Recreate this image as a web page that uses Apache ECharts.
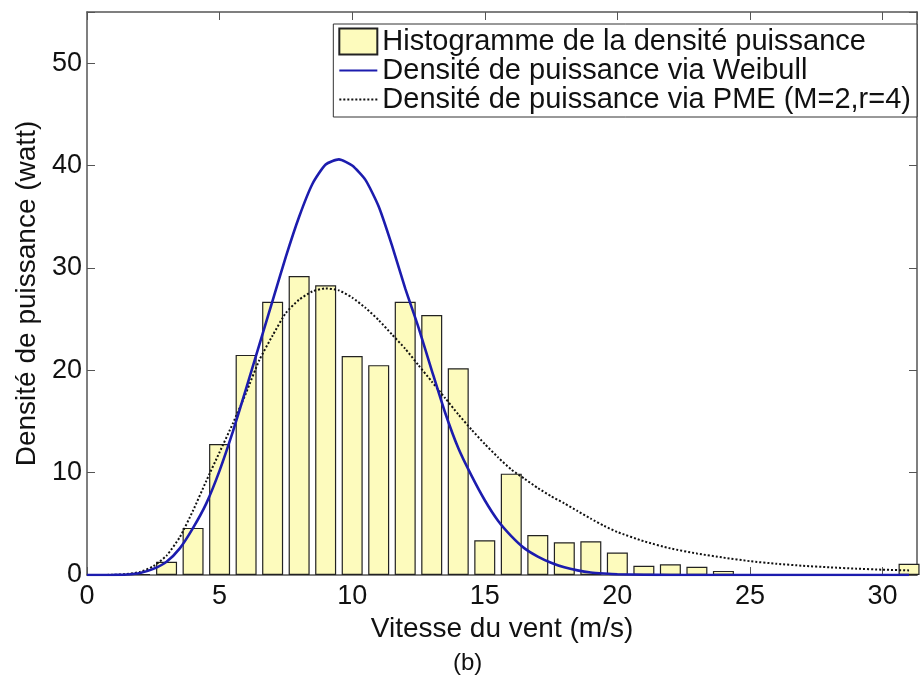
<!DOCTYPE html>
<html>
<head>
<meta charset="utf-8">
<script src="https://cdn.jsdelivr.net/npm/echarts@6.0.0/dist/echarts.min.js"></script>
<style>
    html, body { margin: 0; padding: 0; background: #fff; }
    #chart { width: 920px; height: 677px; }
</style>
</head>
<body>
<div id="chart"></div>
<script>
// histogram (bin centre in m/s, power density)
var histX = [2, 3, 4, 5, 6, 7, 8, 9, 10, 11, 12, 13, 14, 15, 16, 17, 18, 19, 20, 21, 22, 23, 24, 31];
var histY = [0.1, 1.3, 4.6, 12.8, 21.5, 26.7, 29.2, 28.3, 21.4, 20.5, 26.7, 25.4, 20.2, 3.4, 9.9, 3.9, 3.2, 3.3, 2.2, 0.9, 1.05, 0.8, 0.4, 1.1];

// Weibull curve
var weibullX = [0, 1, 1.5, 2, 2.5, 3, 3.5, 4, 4.5, 5, 5.5, 6, 6.5, 7, 7.5, 8, 8.5, 9, 9.5, 10, 10.5, 11, 11.5, 12, 12.5, 13, 13.5, 14, 14.5, 15, 15.5, 16, 16.5, 17, 17.5, 18, 18.5, 19, 19.5, 20, 21, 22, 31];
var weibullY = [0, 0.01, 0.05, 0.2, 0.6, 1.3, 2.6, 4.6, 7.0, 10.2, 14.0, 18.2, 22.5, 26.8, 31.1, 35.0, 38.2, 40.1, 40.6, 40.0, 38.6, 36.0, 32.2, 28.0, 24.2, 20.0, 15.9, 12.4, 9.7, 7.3, 5.3, 3.8, 2.6, 1.8, 1.2, 0.75, 0.45, 0.25, 0.15, 0.08, 0.03, 0, 0];

// PME (M=2, r=4) curve
var pmeX = [0, 1, 1.5, 2, 2.5, 3, 3.5, 4, 4.5, 5, 5.5, 6, 6.5, 7, 7.5, 8, 8.5, 9, 9.5, 10, 10.5, 11, 11.5, 12, 12.5, 13, 13.5, 14, 14.5, 15, 15.5, 16, 16.5, 17, 17.5, 18, 18.5, 19, 19.5, 20, 21, 22, 23, 24, 25, 26, 27, 28, 29, 30, 31];
var pmeY = [0, 0.02, 0.1, 0.3, 0.85, 1.9, 3.7, 6.3, 9.2, 12.0, 14.8, 17.8, 21.0, 23.4, 25.6, 26.9, 27.7, 28.0, 27.8, 27.1, 26.1, 24.9, 23.5, 22.1, 20.5, 18.9, 17.3, 15.7, 14.2, 12.8, 11.5, 10.3, 9.4, 8.5, 7.7, 7.0, 6.25, 5.5, 4.8, 4.2, 3.3, 2.6, 2.1, 1.7, 1.35, 1.1, 0.9, 0.75, 0.62, 0.52, 0.45];

var xTicks = [0, 5, 10, 15, 20, 25, 30];
var yTicks = [0, 10, 20, 30, 40, 50];

var names = [
    'Histogramme de la densité puissance',
    'Densité de puissance via Weibull',
    'Densité de puissance via PME (M=2,r=4)'
];

function pairs(xs, ys) {
    var out = [];
    for (var i = 0; i < xs.length; i++) {
        out.push([xs[i], ys[i]]);
    }
    return out;
}

function init() {
    var myChart = echarts.init(document.getElementById('chart'));
    var font = 'Liberation Sans, Arial, sans-serif';
    var axisColor = '#555';

    function xAxisDef(pos, showLabel) {
        return {
            type: 'value',
            position: pos,
            min: 0,
            max: 31.3,
            interval: 5,
            axisLine: { show: true, onZero: false, lineStyle: { color: axisColor, width: 1.5 } },
            axisTick: { show: true, inside: true, length: 8, lineStyle: { color: axisColor } },
            splitLine: { show: false },
            axisLabel: {
                show: showLabel,
                margin: 8,
                fontSize: 27,
                fontFamily: font,
                color: '#111',
                formatter: function (v) { return xTicks.indexOf(v) >= 0 ? String(v) : ''; }
            }
        };
    }

    function yAxisDef(pos, showLabel) {
        return {
            type: 'value',
            position: pos,
            min: 0,
            max: 55,
            interval: 10,
            axisLine: { show: true, onZero: false, lineStyle: { color: axisColor, width: 1.5 } },
            axisTick: { show: true, inside: true, length: 8, lineStyle: { color: axisColor } },
            splitLine: { show: false },
            axisLabel: {
                show: showLabel,
                margin: 5,
                fontSize: 27,
                fontFamily: font,
                color: '#111',
                formatter: function (v) { return yTicks.indexOf(v) >= 0 ? String(v) : ''; }
            }
        };
    }

    var bottomX = xAxisDef('bottom', true);
    bottomX.name = 'Vitesse du vent (m/s)';
    bottomX.nameLocation = 'middle';
    bottomX.nameGap = 38;
    bottomX.nameTextStyle = { fontSize: 28, fontFamily: font, color: '#111' };

    var leftY = yAxisDef('left', true);
    leftY.name = 'Densité de puissance (watt)';
    leftY.nameLocation = 'middle';
    leftY.nameGap = 34;
    leftY.nameTextStyle = { fontSize: 28, fontFamily: font, color: '#111' };

    myChart.setOption({
        backgroundColor: '#fff',
        animation: false,
        textStyle: { fontFamily: font },
        grid: {
            left: 87,
            right: 3,
            top: 12,
            bottom: 102,
            containLabel: false,
            outerBoundsMode: 'none'
        },
        legend: {
            orient: 'vertical',
            right: 3,
            top: 24,
            align: 'left',
            padding: [3, 6, 3, 5],
            itemGap: 0,
            itemWidth: 38,
            itemHeight: 26,
            backgroundColor: '#fff',
            borderColor: '#333',
            borderWidth: 1,
            borderRadius: 0,
            textStyle: { fontSize: 29, fontFamily: font, color: '#111' },
            data: [
                { name: names[0], icon: 'rect' },
                { name: names[1], itemStyle: { opacity: 0 } },
                { name: names[2], itemStyle: { opacity: 0 } }
            ]
        },
        xAxis: [bottomX, xAxisDef('top', false)],
        yAxis: [leftY, yAxisDef('right', false)],
        graphic: [
            {
                type: 'text',
                left: 453,
                top: 651,
                style: { text: '(b)', fontSize: 24, fontFamily: font, fill: '#111' }
            }
        ],
        series: [
            {
                name: names[0],
                type: 'bar',
                xAxisIndex: 0,
                yAxisIndex: 0,
                barWidth: 21,
                data: pairs(histX, histY),
                itemStyle: {
                    color: '#fdfbbd',
                    borderColor: '#222',
                    borderWidth: 1.2
                },
                z: 1
            },
            {
                name: names[1],
                type: 'line',
                xAxisIndex: 0,
                yAxisIndex: 0,
                data: pairs(weibullX, weibullY),
                symbol: 'none',
                smooth: 0.2,
                lineStyle: { color: '#1c1cae', width: 2.6 },
                itemStyle: { color: '#1c1cae' },
                z: 3
            },
            {
                name: names[2],
                type: 'line',
                xAxisIndex: 0,
                yAxisIndex: 0,
                data: pairs(pmeX, pmeY),
                symbol: 'none',
                smooth: 0.2,
                lineStyle: { color: '#111', width: 2, type: 'dotted' },
                itemStyle: { color: '#111' },
                z: 2
            }
        ]
    });
}
document.addEventListener('DOMContentLoaded', init);
</script>
</body>
</html>
